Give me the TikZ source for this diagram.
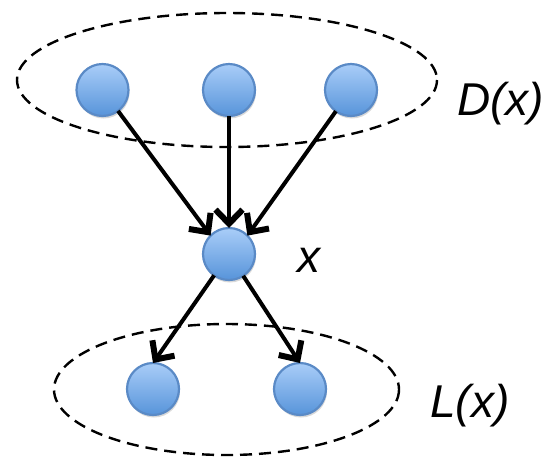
\documentclass[tikz,border=0pt]{standalone}
\usepackage{fontspec}
\setmainfont{Liberation Sans}
\usetikzlibrary{arrows.meta,shadows}
\tikzset{
  var/.style={circle, minimum size=52pt, inner sep=0pt, outer sep=0pt,
    draw=varedge, line width=2.2pt, top color=vartop, bottom color=varbot,
    drop shadow={shadow xshift=1pt, shadow yshift=-2.5pt, opacity=0.3}},
  dep/.style={line width=4pt, -{Straight Barb[length=14pt,width=27pt,line width=6pt]}},
  setline/.style={dash pattern=on 12pt off 7pt, line width=2.4pt},
  lbl/.style={inner sep=0pt, anchor=base west, font=\fontsize{46}{55}\selectfont\itshape}
}
\definecolor{vartop}{HTML}{A9CDF8}
\definecolor{varbot}{HTML}{5794DA}
\definecolor{varedge}{HTML}{5A8AC6}
\begin{document}
\begin{tikzpicture}[x=1pt, y=-1pt]
    \useasboundingbox (0,0) rectangle (545,456);

    % dependency set and local set
    \draw[setline] (227,80) ellipse [x radius=210, y radius=67];
    \draw[setline] (226.5,389.5) ellipse [x radius=172.5, y radius=65.5];

    \node[var] (d1) at (102.5,90) {};
    \node[var] (d2) at (229,90) {};
    \node[var] (d3) at (351,90) {};
    \node[var] (x) at (229,254) {};
    \node[var] (l1) at (153,389) {};
    \node[var] (l2) at (300,389) {};

    \draw[dep] (d1) -- (x.north west);
    \draw[dep] (d2) -- (x.north);
    \draw[dep] (d3) -- (x.north east);
    \draw[dep] (x) -- (l1.north);
    \draw[dep] (x) -- (l2.north);

    \node[lbl] (dlabel) at (457,115) {D(x)};
    \node[lbl] (xlabel) at (297,272) {x};
    \node[lbl] (llabel) at (430,417) {L(x)};
\end{tikzpicture}
\end{document}
